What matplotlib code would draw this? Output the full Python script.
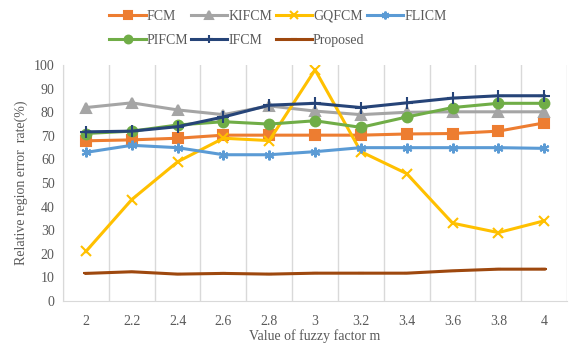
import matplotlib.pyplot as plt
import numpy as np

plt.rcParams['font.family'] = 'Liberation Serif'

m_labels = ['2', '2.2', '2.4', '2.6', '2.8', '3', '3.2', '3.4', '3.6', '3.8', '4']
fcm = [67.9, 68.3, 69, 70.3, 70.3, 70.3, 70.3, 70.8, 71, 72, 75.5]
kifcm = [82, 84, 81, 79, 82.7, 80.5, 79, 80, 80.2, 80.2, 80.2]
gqfcm = [21, 43, 59, 69, 68, 98, 63.3, 54, 33, 29, 34]
flicm = [63, 66, 65, 62, 62, 63.3, 65, 65, 65, 65, 64.7]
pifcm = [71, 72, 74.6, 76, 75, 76.4, 73.6, 78, 82, 83.8, 83.8]
ifcm = [71.7, 72, 73.9, 78, 83, 83.8, 82, 84, 86, 87, 87]
proposed = [11.7, 12.4, 11.4, 11.7, 11.4, 11.8, 11.8, 11.8, 12.8, 13.5, 13.5]

series = [
    ('FCM', fcm, '#ED7D31', 's', 7),
    ('KIFCM', kifcm, '#A5A5A5', '^', 7),
    ('GQFCM', gqfcm, '#FFC000', 'x', 7),
    ('FLICM', flicm, '#5B9BD5', (6, 2, 0), 7),
    ('PIFCM', pifcm, '#70AD47', 'o', 7),
    ('IFCM', ifcm, '#264478', '+', 8),
    ('Proposed', proposed, '#9E480E', '_', 5),
]

fig = plt.figure(figsize=(5.7, 3.49), dpi=100)
ax = fig.add_axes([0.1105, 0.1375, 0.8845, 0.676])
x = np.arange(len(m_labels))

for i in range(len(m_labels) + 1):
    ax.axvline(i - 0.5, color='#D9D9D9', lw=1.0, zorder=0)

handles = {}
for name, vals, col, mk, ms in series:
    h, = ax.plot(x, vals, color=col, lw=2.2, marker=mk, markersize=ms,
                 markeredgewidth=1.5, label=name)
    handles[name] = h

ax.set_xlim(-0.5, len(m_labels) - 0.5)
ax.set_ylim(0, 100)
ax.set_yticks(range(0, 101, 10))
ax.set_xticks(x)
ax.set_xticklabels(m_labels)
ax.tick_params(length=0, labelsize=10, labelcolor='#595959', pad=6)
ax.tick_params(axis='x', pad=10)
for s in ['top', 'right']:
    ax.spines[s].set_visible(False)
ax.spines['left'].set_color('#D9D9D9')
ax.spines['bottom'].set_color('#D9D9D9')

ax.set_xlabel('Value of fuzzy factor m', fontsize=10, color='#595959', labelpad=1)
ax.set_ylabel('Relative region error  rate(%)', fontsize=10, color='#595959', labelpad=4)

# legend fills column by column, so order for row-wise reading
order = ['FCM', 'PIFCM', 'KIFCM', 'IFCM', 'GQFCM', 'Proposed', 'FLICM']
fig.legend([handles[n] for n in order], order, loc='upper left',
           bbox_to_anchor=(0.175, 1.0), ncol=4, frameon=False,
           fontsize=10, handlelength=2.6, columnspacing=0.2, handletextpad=0.1,
           labelspacing=0.8, labelcolor='#595959', markerscale=0.8,
           borderaxespad=0.3)

fig.savefig('out.png', dpi=100)
